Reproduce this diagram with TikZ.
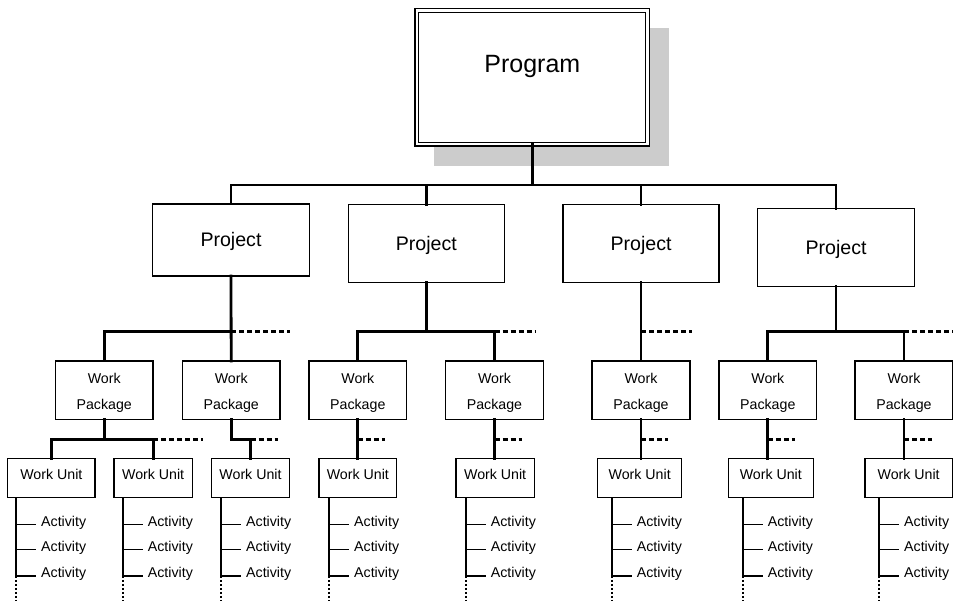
\documentclass[tikz,border=0pt]{standalone}
\usepackage{fontspec}
\setmainfont{Liberation Sans}
\begin{document}
\begin{tikzpicture}[x=1pt,y=-1pt,
  box/.style={draw=black, line width=1.4pt, fill=white, inner sep=0pt, outer sep=0pt},
  conn/.style={line width=2.8pt, line cap=rect},
  dashconn/.style={line width=2.8pt, dash pattern=on 5pt off 3pt},
  actline/.style={line width=1.6pt},
  actdot/.style={line width=1.6pt, dash pattern=on 2pt off 2pt},
  big/.style={font=\fontsize{25}{30}\selectfont, anchor=base, inner sep=0pt},
  mid/.style={font=\fontsize{19.6}{23}\selectfont, anchor=base, inner sep=0pt},
  small/.style={font=\fontsize{14.2}{17}\selectfont, anchor=base, inner sep=0pt},
  act/.style={font=\fontsize{14.2}{17}\selectfont, anchor=base west, inner sep=0pt}
]
\useasboundingbox (0,0) rectangle (953,601);

% Program
\fill[black!20] (434,28) rectangle (669,165.7);
\node[box, draw=black, line width=1.3pt, double=white, double distance=2.4pt,
  minimum width=230.7pt, minimum height=133.6pt] (prog) at (532.3,77.5) {};
\node[big] (progtxt) at (532.3,73) {Program};

% Projects
\node[box, minimum width=156.6pt, minimum height=72pt] (p1) at (231,240) {};
\node[box, minimum width=156pt, minimum height=78pt] (p2) at (426.3,243.3) {};
\node[box, minimum width=156pt, minimum height=78pt] (p3) at (641,243.3) {};
\node[box, minimum width=156.6pt, minimum height=78.4pt] (p4) at (836,247.5) {};
\node[mid] (p1t) at (231,247) {Project};
\node[mid] (p2t) at (426.3,250.3) {Project};
\node[mid] (p3t) at (641,250.3) {Project};
\node[mid] (p4t) at (836,254.5) {Project};

\coordinate (bus0) at (532.3,185);
\draw[conn] (prog.south) -- (bus0);
\draw[conn] (p1.north) -- (p1.north |- bus0) -- (p4.north |- bus0) -- (p4.north);
\draw[conn] (p2.north) -- (p2.north |- bus0);
\draw[conn] (p3.north) -- (p3.north |- bus0);

% Work packages
\foreach \n/\x in {1/104.2, 2/231.2, 3/357.8, 4/494.5, 5/641, 6/767.8, 7/904}{
  \node[box, minimum width=97.7pt, minimum height=58.3pt] (wp\n) at (\x,390.2) {};
  \node[small] (wp\n a) at (\x,383.3) {Work};
  \node[small] (wp\n b) at (\x,409.3) {Package};
}

% Project -> WP
\coordinate (b1) at (0,331.7);
\draw[conn] (p1.south) -- (wp2.north);
\draw[conn] (wp1.north) -- (wp1.north |- b1) -- (wp2.north |- b1);
\coordinate (d1) at (290,331.7);
\draw[dashconn] (wp2.north |- b1) -- (d1);

\draw[conn] (p2.south) -- (p2.south |- b1);
\draw[conn] (wp3.north) -- (wp3.north |- b1) -- (wp4.north |- b1) -- (wp4.north);
\coordinate (d2) at (535,331.7);
\draw[dashconn] (wp4.north |- b1) -- (d2);

\draw[conn] (p3.south) -- (wp5.north);
\coordinate (d3) at (692,331.7);
\draw[dashconn] (wp5.north |- b1) -- (d3);

\draw[conn] (p4.south) -- (p4.south |- b1);
\draw[conn] (wp6.north) -- (wp6.north |- b1) -- (wp7.north |- b1) -- (wp7.north);
\coordinate (d4) at (953,331.7);
\draw[dashconn] (wp7.north |- b1) -- (d4);

% Work units
\foreach \n/\l/\r/\ax in {1/7.7/95/16, 2/114/192.3/122.7, 3/211.7/289.3/221, 4/319/396.7/329,
  5/456/534.3/465.7, 6/597.7/681.7/611.7, 7/728.3/813.3/742.7, 8/865/952.3/879}{
  \pgfmathsetmacro{\cx}{(\l+\r)/2}
  \pgfmathsetmacro{\w}{\r-\l}
  \node[box, minimum width=\w pt, minimum height=39pt] (wu\n) at (\cx,477.8) {};
  \node[small] (wu\n t) at (\cx,479.3) {Work Unit};
  \coordinate (wu\n s) at (\ax,497.3);
  \coordinate (wu\n e) at (\ax,601);
  \foreach \k/\y in {1/524.5, 2/549.3, 3/575.8}{
    \coordinate (t\n\k) at (\ax,\y);
    \coordinate (u\n\k) at (\ax+20,\y);
    \draw[actline] (t\n\k) -- (u\n\k);
    \node[act] (a\n\k) at (\ax+25,\y+1.8) {Activity};
  }
  \draw[actline] (wu\n s) -- (t\n3);
  \draw[actdot] (t\n3) -- (wu\n e);
}

% WP -> WU
\coordinate (b2) at (0,439.3);
\draw[conn] (wp1.south) -- (wp1.south |- b2);
\draw[conn] (wu1.north) -- (wu1.north |- b2) -- (wu2.north |- b2) -- (wu2.north);
\coordinate (e1) at (203,439.3);
\draw[dashconn] (wu2.north |- b2) -- (e1);

\draw[conn] (wp2.south) -- (wp2.south |- b2) -- (wu3.north |- b2) -- (wu3.north);
\coordinate (e2) at (277.7,439.3);
\draw[dashconn] (wu3.north |- b2) -- (e2);

\draw[conn] (wp3.south) -- (wp3.south |- wu4.north);
\coordinate (e3) at (385,439.3);
\draw[dashconn] (wp3.south |- b2) -- (e3);

\draw[conn] (wp4.south) -- (wp4.south |- wu5.north);
\coordinate (e4) at (521.7,439.3);
\draw[dashconn] (wp4.south |- b2) -- (e4);

\draw[conn] (wp5.south) -- (wp5.south |- wu6.north);
\coordinate (e5) at (668.3,439.3);
\draw[dashconn] (wp5.south |- b2) -- (e5);

\draw[conn] (wp6.south) -- (wp6.south |- wu7.north);
\coordinate (e6) at (795,439.3);
\draw[dashconn] (wp6.south |- b2) -- (e6);

\draw[conn] (wp7.south) -- (wp7.south |- wu8.north);
\coordinate (e7) at (931.7,439.3);
\draw[dashconn] (wp7.south |- b2) -- (e7);
\end{tikzpicture}
\end{document}
